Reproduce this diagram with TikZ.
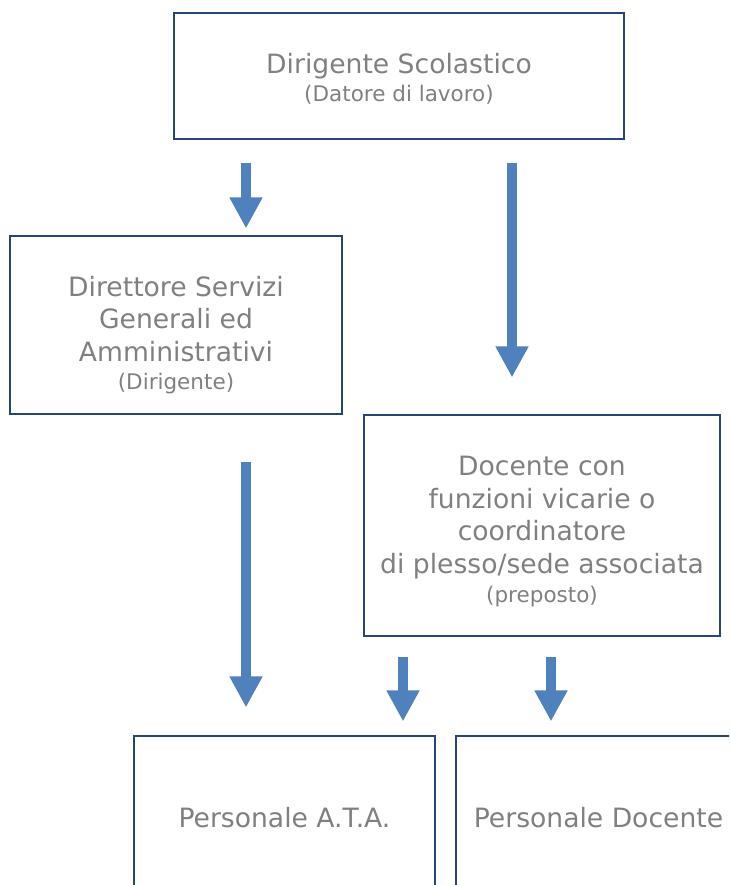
\documentclass[tikz,border=0pt]{standalone}
\usepackage{fontspec}
\setmainfont{DejaVu Sans}
\usetikzlibrary{arrows.meta}

\definecolor{boxline}{RGB}{38,70,122}
\definecolor{flowblue}{RGB}{79,129,189}
\definecolor{txtgray}{RGB}{128,128,128}

\newcommand{\rolefont}{\fontsize{26.6}{32.5}\selectfont}
\newcommand{\notefont}{\fontsize{21.5}{29}\selectfont}
\newcommand{\padtop}[1]{\rule{0pt}{#1}}

\tikzset{
  rolebox/.style={draw=boxline, line width=1.2pt, text=txtgray, align=center,
    inner sep=0pt, font=\rolefont},
  flow/.style={draw=flowblue, line width=9.5pt,
    -{Triangle[width=31pt,length=31pt]}}
}

\begin{document}
\begin{tikzpicture}[x=1pt,y=-1pt]
  \clip (0,0) rectangle (729,885);

  % Boxes
  \node[rolebox, minimum width=450pt, minimum height=126pt] (ds) at (399,76)
    {\padtop{26pt}Dirigente Scolastico\\[-4pt]{\notefont (Datore di lavoro)}};
  \node[rolebox, minimum width=332pt, minimum height=178pt] (dsga) at (176,325)
    {\padtop{40pt}Direttore Servizi\\Generali ed\\Amministrativi\\[-4pt]{\notefont (Dirigente)}};
  \node[rolebox, minimum width=356pt, minimum height=221pt] (vic) at (542,525.5)
    {\padtop{32pt}Docente con\\funzioni vicarie o\\coordinatore\\di plesso/sede associata\\[-3pt]{\notefont (preposto)}};
  \node[rolebox, minimum width=301pt, minimum height=164pt] (ata) at (284.5,818)
    {Personale A.T.A.};
  \node[rolebox, minimum width=285pt, minimum height=164pt] (doc) at (598.5,818)
    {Personale Docente};

  % Arrows
  \coordinate (a1) at (246,163);
  \coordinate (a2) at (512,163);
  \coordinate (a3) at (246,462);
  \coordinate (a4) at (403,657);
  \coordinate (a5) at (551,657);
  \foreach \a/\b/\gap in {a1/dsga/7, a2/vic/37, a3/ata/28, a4/ata/14, a5/doc/14}
    \draw[flow, shorten >=\gap pt] (\a) -- (\a |- \b.north);
\end{tikzpicture}
\end{document}
